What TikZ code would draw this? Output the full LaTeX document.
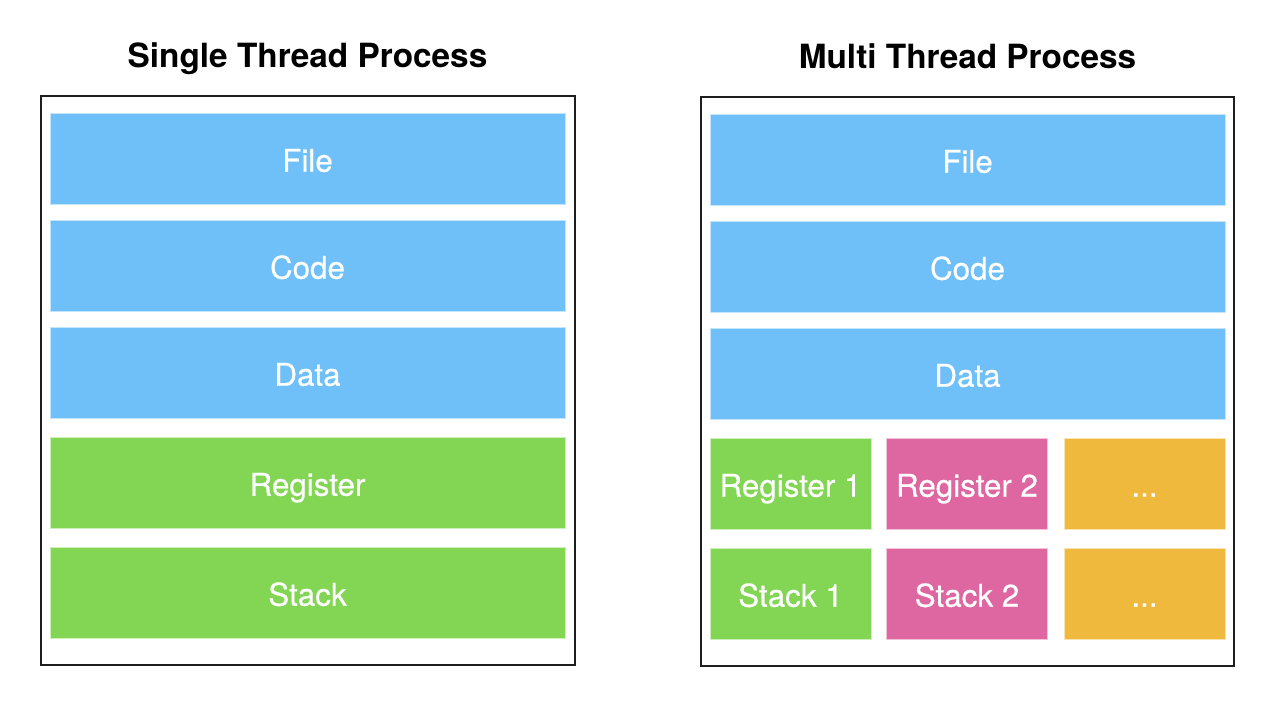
\documentclass[tikz,border=0pt]{standalone}
\usepackage{fontspec}
\setmainfont{TeX Gyre Heros}
\newfontfamily\segfont[FakeBold=0.5]{TeX Gyre Heros}
\definecolor{blkblue}{RGB}{111,191,249}
\definecolor{blkgreen}{RGB}{130,214,84}
\definecolor{blkpink}{RGB}{222,103,161}
\definecolor{blkorange}{RGB}{238,185,60}
\tikzset{
  seg/.style={draw=white!60!#1, fill=#1, line width=0.5pt, text=white, inner sep=0pt,
    font=\segfont\fontsize{23.5}{26}\selectfont, text height=19.8pt, text depth=0pt,
    minimum width=386.25pt, minimum height=68.25pt},
  subseg/.style={seg=#1, minimum width=120.75pt},
  frame/.style={draw={rgb, 255:red, 30; green, 30; blue, 30}, line width=0.9pt},
  title/.style={font=\fontsize{25}{28}\selectfont\bfseries, anchor=base}
}
\begin{document}
\begin{tikzpicture}[x=0.75pt,y=0.75pt,yscale=-1,xscale=1]
\useasboundingbox (0,0) rectangle (1280,714);

% Text Node
\node[title] (stitle) at (307.5,67) {Single Thread Process};
% Text Node
\node[title] (mtitle) at (967.5,68) {Multi Thread Process};

%Shape: Rectangle
\draw[frame] (41,96) rectangle (575,665);
%Shape: Rectangle
\draw[frame] (701,97) rectangle (1234,666);

% single thread
\node[seg=blkblue] (sfile) at (307.5,158.5) {File};
\node[seg=blkblue] (scode) at (307.5,265.5) {Code};
\node[seg=blkblue] (sdata) at (307.5,372.5) {Data};
\node[seg=blkgreen] (sreg) at (307.5,482.5) {Register};
\node[seg=blkgreen] (sstack) at (307.5,592.5) {Stack};

% multi thread
\node[seg=blkblue] (mfile) at (967.5,159.5) {File};
\node[seg=blkblue] (mcode) at (967.5,266.5) {Code};
\node[seg=blkblue] (mdata) at (967.5,373.5) {Data};
\node[subseg=blkgreen] (mreg1) at (790.5,483.5) {Register 1};
\node[subseg=blkpink] (mreg2) at (967,483.5) {Register 2};
\node[subseg=blkorange] (mreg3) at (1144.5,483.5) {...};
\node[subseg=blkgreen] (mstack1) at (790.5,593.5) {Stack 1};
\node[subseg=blkpink] (mstack2) at (967,593.5) {Stack 2};
\node[subseg=blkorange] (mstack3) at (1144.5,593.5) {...};

\end{tikzpicture}
\end{document}
